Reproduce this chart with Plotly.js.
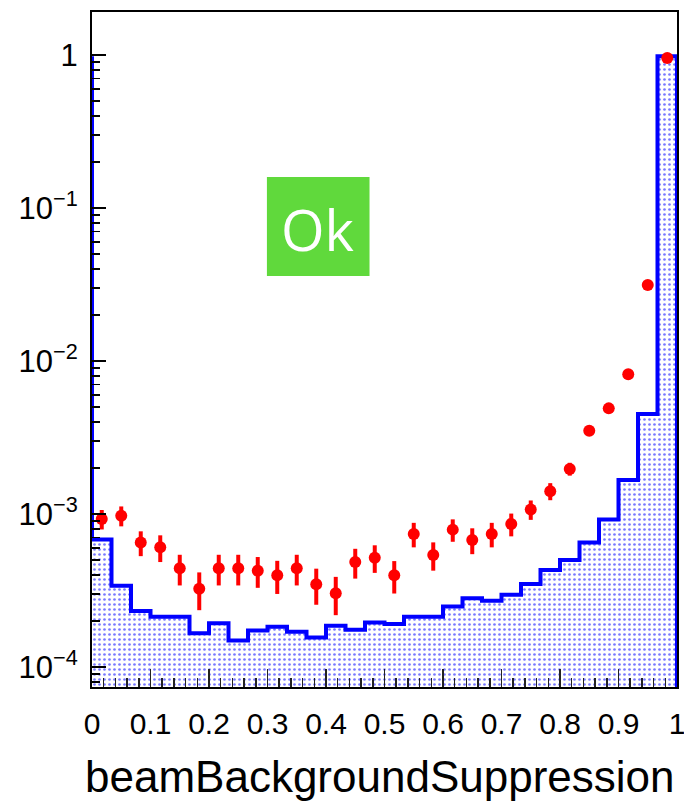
<!DOCTYPE html>
<html>
<head>
<meta charset="utf-8">
<script src="https://cdn.plot.ly/plotly-3.0.1.min.js"></script>
<style>
html,body{margin:0;padding:0;background:#ffffff;}
#chart{width:684px;height:808px;}
</style>
</head>
<body>
<div id="chart"></div>
<script>
// ---- binning ----
const binLow = 0;
const binHigh = 1;
const nBins = 30;

// ---- reference histogram (blue, filled) ----
const histValues = [6.8e-4, 3.4e-4, 2.32e-4, 2.13e-4, 2.13e-4, 1.66e-4, 1.93e-4, 1.49e-4, 1.73e-4, 1.83e-4,
                    1.70e-4, 1.56e-4, 1.86e-4, 1.75e-4, 1.95e-4, 1.91e-4, 2.13e-4, 2.13e-4, 2.48e-4, 2.81e-4,
                    2.71e-4, 2.96e-4, 3.49e-4, 4.31e-4, 5.0e-4, 6.5e-4, 9.2e-4, 1.67e-3, 4.5e-3, 0.98];

// ---- data points (red, with errors) ----
const dataValues = [9.27e-4, 9.75e-4, 6.5e-4, 6.05e-4, 4.41e-4, 3.25e-4, 4.41e-4, 4.41e-4, 4.26e-4, 3.97e-4,
                    4.41e-4, 3.47e-4, 3.03e-4, 4.85e-4, 5.18e-4, 3.97e-4, 7.4e-4, 5.39e-4, 7.9e-4, 6.76e-4,
                    7.4e-4, 8.6e-4, 1.07e-3, 1.41e-3, 1.97e-3, 3.5e-3, 4.9e-3, 8.2e-3, 3.14e-2, 0.956];
const dataErrors = [1.35e-4, 1.45e-4, 1.2e-4, 1.2e-4, 1.0e-4, 0.9e-4, 1.0e-4, 1.0e-4, 0.97e-4, 0.97e-4,
                    1.0e-4, 0.92e-4, 0.85e-4, 1.07e-4, 1.06e-4, 0.95e-4, 1.35e-4, 1.13e-4, 1.32e-4, 1.3e-4,
                    1.35e-4, 1.46e-4, 1.55e-4, 1.8e-4, 1.9e-4, 2.5e-4, 3.0e-4, 4.0e-4, 8.0e-4, 4.0e-3];

// ---- axis labels ----
const xTickVals = [0, 0.1, 0.2, 0.3, 0.4, 0.5, 0.6, 0.7, 0.8, 0.9, 1];
const xTickText = ['0', '0.1', '0.2', '0.3', '0.4', '0.5', '0.6', '0.7', '0.8', '0.9', '1'];
const yTickVals = [1e-4, 1e-3, 1e-2, 1e-1, 1];
const yTickText = ['10<sup>\u22124</sup>', '10<sup>\u22123</sup>', '10<sup>\u22122</sup>', '10<sup>\u22121</sup>', '1'];
const xTitle = 'beamBackgroundSuppression';
const badgeText = 'Ok';

// ---- derived geometry (from binning) ----
const binWidth = (binHigh - binLow) / nBins;
const edges = [];
for (let i = 0; i <= nBins; i++) edges.push(binLow + i * binWidth);
const centers = [];
for (let i = 0; i < nBins; i++) centers.push(binLow + (i + 0.5) * binWidth);

const floorVal = 1e-7; // below visible range
const fillX = [edges[0]], fillY = [floorVal];
const lineX = [edges[0]], lineY = [Math.max(...histValues)];
for (let i = 0; i < nBins; i++) {
  fillX.push(edges[i], edges[i + 1]);
  fillY.push(histValues[i], histValues[i]);
  lineX.push(edges[i], edges[i + 1]);
  lineY.push(histValues[i], histValues[i]);
}
fillX.push(edges[nBins]); fillY.push(floorVal);
lineX.push(edges[nBins]); lineY.push(floorVal);

const xMinor = [];
for (let i = 0; i <= 50; i++) { if (i % 5 !== 0) xMinor.push(i * 0.02); }
const yMinor = [];
for (let k = -5; k <= 0; k++) for (let d = 2; d <= 9; d++) yMinor.push(d * Math.pow(10, k));

const traces = [
  {
    type: 'scatter', mode: 'lines', x: fillX, y: fillY, fill: 'toself',
    fillcolor: 'rgba(255,255,255,0)',
    fillpattern: {shape: '.', fgcolor: 'rgb(120,120,255)', bgcolor: 'white', size: 5, solidity: 0.22},
    line: {width: 0}, hoverinfo: 'skip'
  },
  {
    type: 'scatter', mode: 'lines', x: lineX, y: lineY,
    line: {color: '#0000ff', width: 4}, hoverinfo: 'skip'
  },
  {
    type: 'scatter', mode: 'markers', x: centers, y: dataValues,
    marker: {color: '#ff0000', size: 12},
    error_y: {type: 'data', array: dataErrors, color: '#ff0000', thickness: 4, width: 0},
    cliponaxis: false
  }
];

const tickFont = {family: 'Liberation Sans, Arial, sans-serif', size: 30, color: '#000'};

const layout = {
  width: 684, height: 808,
  margin: {l: 92, r: 7, t: 12, b: 121},
  paper_bgcolor: '#ffffff', plot_bgcolor: '#ffffff',
  showlegend: false,
  xaxis: {
    range: [binLow, binHigh], tickmode: 'array', tickvals: xTickVals, ticktext: xTickText,
    ticks: 'inside', ticklen: 18, tickwidth: 1.5, tickcolor: '#222',
    showline: true, linewidth: 2, linecolor: '#000', mirror: true,
    showgrid: false, zeroline: false, tickfont: tickFont, ticklabelstandoff: 9,
    ticklabeloverflow: 'allow',
    minor: {tickmode: 'array', tickvals: xMinor, ticks: 'inside', ticklen: 9, tickwidth: 1.5, tickcolor: '#222', showgrid: false}
  },
  yaxis: {
    type: 'log', range: [-4.131, 0.281], tickmode: 'array', tickvals: yTickVals, ticktext: yTickText,
    ticks: 'inside', ticklen: 14, tickwidth: 1.5, tickcolor: '#000',
    showline: true, linewidth: 2, linecolor: '#000', mirror: true,
    showgrid: false, zeroline: false,
    tickfont: {family: 'Liberation Sans, Arial, sans-serif', size: 31, color: '#000'}, ticklabelstandoff: 6,
    ticklabeloverflow: 'allow',
    minor: {tickmode: 'array', tickvals: yMinor, ticks: 'inside', ticklen: 8, tickwidth: 1.5, tickcolor: '#000', showgrid: false}
  },
  shapes: [
    {type: 'rect', xref: 'paper', yref: 'paper', x0: 0.299, x1: 0.4744, y0: 0.6089, y1: 0.7556,
     fillcolor: '#60d93c', line: {width: 0}, layer: 'above'}
  ],
  annotations: [
    {xref: 'paper', yref: 'paper', x: 0.3863, y: 0.6785, xanchor: 'center', yanchor: 'middle',
     text: badgeText, showarrow: false, font: {family: 'Open Sans, sans-serif', size: 56, color: '#ffffff'}},
    {xref: 'paper', yref: 'paper', x: 1.0, y: -0.1333, xanchor: 'right', yanchor: 'middle',
     text: xTitle, showarrow: false, font: {family: 'Liberation Sans, Arial, sans-serif', size: 44, color: '#000'}}
  ]
};

Plotly.newPlot('chart', traces, layout, {displayModeBar: false, staticPlot: true});
</script>
</body>
</html>
